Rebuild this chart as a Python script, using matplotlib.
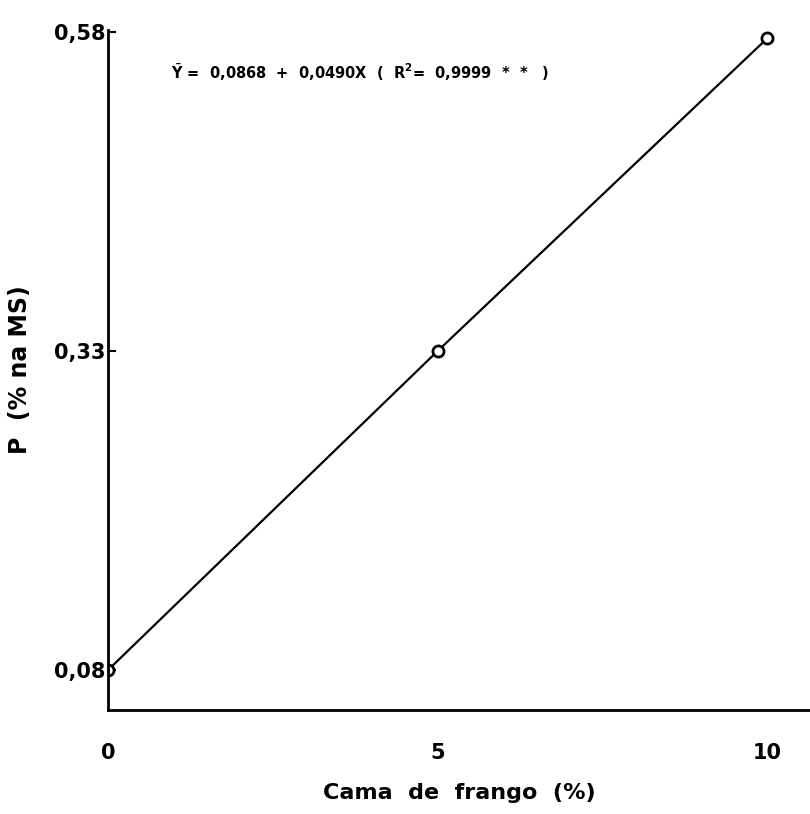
import matplotlib.pyplot as plt

# data
cama = [0, 5, 10]
p_ms = [0.08, 0.33, 0.575]
yticks = [0.08, 0.33, 0.58]
ytick_labels = ["0,08", "0,33", "0,58"]
xticks = [0, 5, 10]
equation = (r"$\bar{\mathbf{Y}}$" + " =  0,0868  +  0,0490X  (  R$^\\mathbf{2}$=  0,9999  *  *   )")

fig = plt.figure(figsize=(8.1, 8.14), dpi=100)
ax = fig.add_axes([108/810, 1 - 710/814, 1 - 108/810, 680/814])

ax.plot(cama, p_ms, color="black", lw=1.6, marker="o", ms=8,
        mfc="white", mec="black", mew=2)

ax.set_xlim(0, 10.65)
ax.set_ylim(0.0487, 0.5816)
ax.set_xticks(xticks)
ax.set_xticklabels([str(v) for v in xticks], fontsize=15, fontweight="bold")
ax.set_yticks(yticks)
ax.set_yticklabels(ytick_labels, fontsize=15, fontweight="bold")
ax.tick_params(axis="y", direction="in", length=6, width=1.5, pad=2)
ax.tick_params(axis="x", length=0, pad=24)

for s in ["top", "right"]:
    ax.spines[s].set_visible(False)
ax.spines["left"].set_linewidth(2)
ax.spines["bottom"].set_linewidth(2)

ax.set_xlabel("Cama  de  frango  (%)", fontsize=16, fontweight="bold", labelpad=14)
ax.set_ylabel("P  (% na MS)", fontsize=17, fontweight="bold", labelpad=16)

ax.text(0.95, 0.548, equation, fontsize=10.5, fontweight="bold", va="center")

fig.savefig("out.png", dpi=100)
